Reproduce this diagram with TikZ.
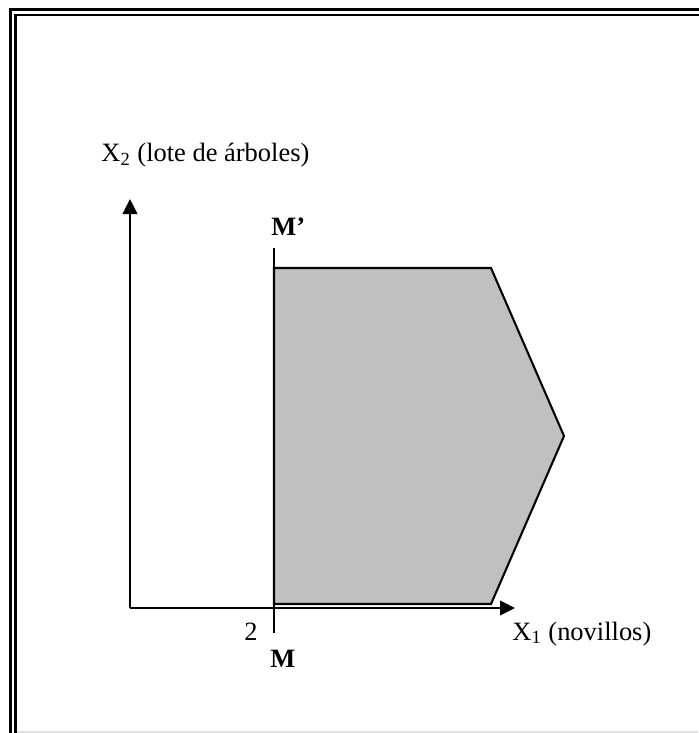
\documentclass[tikz,border=0pt]{standalone}
\usepackage{fontspec}
\setmainfont{Liberation Serif}
\usetikzlibrary{arrows.meta}
\definecolor{regiongray}{RGB}{192,192,192}

\begin{document}
\begin{tikzpicture}[x=0.48pt, y=-0.48pt,
    axis/.style={line width=1pt, -{Triangle[length=7.2pt, width=7pt]}},
    region/.style={draw=black, fill=regiongray, line width=1pt, line join=miter},
    label/.style={inner sep=0pt, font=\fontsize{12.7}{15}\selectfont}]
  \useasboundingbox (0,0) rectangle (698,733);
  % double frame
  \draw[line width=1.45pt] (10.5,9.5) rectangle (720,760);
  \draw[line width=1.2pt] (15.5,15) rectangle (715,755);
  \draw[black!12, line width=0.5pt] (17,732) -- (698,732);
  % points
  \coordinate (o) at (130,608);
  \coordinate (xtip) at (515,608);
  \coordinate (ytip) at (130,199);
  \coordinate (p1) at (274,268);
  \coordinate (p2) at (491,268);
  \coordinate (p3) at (564,436);
  \coordinate (p4) at (491,604);
  \coordinate (p5) at (274,604);
  \coordinate (mtop) at (274,248);
  \coordinate (mbot) at (274,633);
  % feasible region
  \draw[region] (p1) -- (p2) -- (p3) -- (p4) -- (p5) -- cycle;
  % axes
  \draw[axis] (o) -- (xtip);
  \draw[axis] (o) -- (ytip);
  \draw[line width=1pt] (mbot) -- (mtop);
  % labels
  \node[label, anchor=base west] (lxtwo) at (101,162) {X\textsubscript{2} (lote de árboles)};
  \node[label, anchor=base west] (lxone) at (512,640) {X\textsubscript{1} (novillos)};
  \node[label, anchor=base east] (ltwo) at (258,640) {2};
  \node[label, anchor=base west, font=\fontsize{12.7}{15}\selectfont\bfseries] (lmtop) at (271,235) {M’};
  \node[label, anchor=base west, font=\fontsize{12.7}{15}\selectfont\bfseries] (lmbot) at (270,667) {M};
\end{tikzpicture}
\end{document}
